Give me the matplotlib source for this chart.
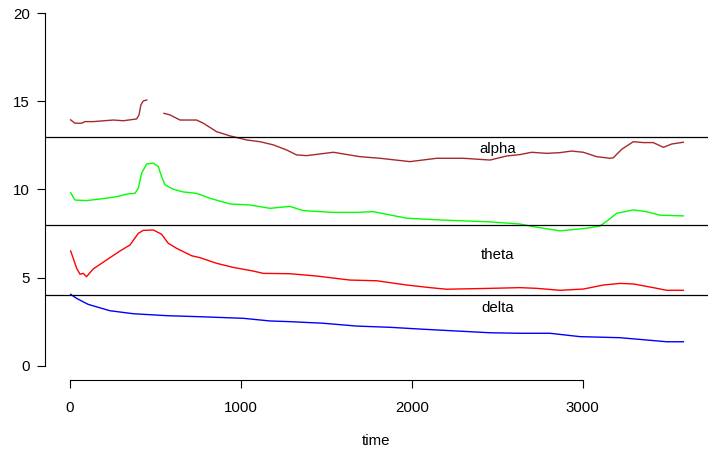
import numpy as np
import matplotlib
matplotlib.use("Agg")
import matplotlib.pyplot as plt

# ---- data ----
alpha_t = [4, 29, 68, 88, 136, 253, 312, 390, 404, 415, 429, 449,
           500,
           550, 585, 644, 741, 780, 858, 936, 1034, 1112, 1190, 1268, 1326,
           1385, 1541, 1697, 1814, 1989, 2146, 2301, 2458, 2555, 2633, 2701,
           2789, 2867, 2935, 3004, 3082, 3160, 3179, 3228, 3296, 3355, 3413,
           3472, 3521, 3589]
alpha_v = [13.95, 13.76, 13.76, 13.85, 13.85, 13.94, 13.9, 14.0, 14.23, 14.8, 15.02, 15.08,
           np.nan,
           14.32, 14.23, 13.94, 13.94, 13.76, 13.28, 13.04, 12.81, 12.71, 12.53, 12.24, 11.96,
           11.92, 12.11, 11.86, 11.77, 11.58, 11.77, 11.77, 11.67, 11.9, 11.98, 12.11,
           12.05, 12.09, 12.18, 12.11, 11.86, 11.77, 11.8, 12.28, 12.71, 12.66, 12.66,
           12.39, 12.58, 12.68]

beta_t = [4, 29, 97, 195, 273, 332, 380, 400, 419, 449, 488, 517, 536, 556,
          605, 663, 741, 819, 936, 1053, 1170, 1287, 1365, 1541, 1677, 1775,
          1970, 2165, 2458, 2633, 2711, 2867, 3023, 3101, 3150, 3199, 3296,
          3374, 3452, 3589]
beta_v = [9.82, 9.4, 9.37, 9.48, 9.59, 9.74, 9.78, 10.07, 10.92, 11.45, 11.49, 11.3, 10.73, 10.26,
          10.01, 9.86, 9.78, 9.5, 9.18, 9.12, 8.93, 9.04, 8.8, 8.7, 8.7, 8.74,
          8.37, 8.27, 8.16, 8.04, 7.89, 7.65, 7.8, 7.93, 8.27, 8.65, 8.84,
          8.74, 8.54, 8.5]

theta_t = [4, 19, 39, 59, 78, 97, 136, 234, 293, 351, 400, 429, 488, 536,
           575, 624, 712, 761, 858, 955, 1073, 1131, 1287, 1443, 1638, 1795,
           1970, 2107, 2204, 2458, 2633, 2731, 2867, 3004, 3121, 3218, 3296,
           3413, 3491, 3589]
theta_v = [6.51, 6.1, 5.53, 5.19, 5.24, 5.05, 5.49, 6.13, 6.51, 6.85, 7.51, 7.68, 7.7, 7.46,
           6.95, 6.66, 6.24, 6.13, 5.81, 5.58, 5.37, 5.24, 5.22, 5.09, 4.86, 4.82,
           4.58, 4.43, 4.34, 4.39, 4.43, 4.39, 4.28, 4.35, 4.58, 4.67, 4.64,
           4.43, 4.28, 4.28]

delta_t = [4, 39, 107, 234, 371, 566, 761, 1014, 1170, 1287, 1482, 1677,
           1872, 2067, 2263, 2458, 2633, 2809, 2984, 3218, 3374, 3491, 3589]
delta_v = [4.05, 3.82, 3.48, 3.12, 2.95, 2.84, 2.78, 2.69, 2.54, 2.5, 2.41, 2.25,
           2.18, 2.07, 1.97, 1.87, 1.84, 1.84, 1.65, 1.59, 1.46, 1.36, 1.36]

hlines = [13, 8, 4]
band_labels = ["alpha", "theta", "delta"]
label_x = [2500, 2500, 2500]
label_y = [12.05, 6.04, 3.06]

yticks = [0, 5, 10, 15, 20]
xticks = [0, 1000, 2000, 3000]

# ---- figure ----
plt.rcParams['font.family'] = ['Liberation Sans', 'DejaVu Sans']
fs = 10.8
fig = plt.figure(figsize=(7.14, 4.5), dpi=100)
ax = fig.add_axes([45 / 714, 1 - 380 / 450, 663 / 714, 380 / 450])
ax.set_xlim(-146, 3733)
ax.set_ylim(-0.81, 20.75)

lw = 1.0
ax.plot(alpha_t, alpha_v, color='#A52A2A', lw=lw)
ax.plot(beta_t, beta_v, color='#00FF00', lw=lw)
ax.plot(theta_t, theta_v, color='#FF0000', lw=lw)
ax.plot(delta_t, delta_v, color='#0000FF', lw=lw)

for h in hlines:
    ax.axhline(h, color='black', lw=0.9)

for lab, x, y in zip(band_labels, label_x, label_y):
    ax.text(x, y, lab, ha='center', va='baseline', fontsize=fs, color='black')

for s in ['top', 'right']:
    ax.spines[s].set_visible(False)
ax.spines['left'].set_bounds(0, 20)
ax.spines['bottom'].set_bounds(0, 3000)
for s in ['left', 'bottom']:
    ax.spines[s].set_linewidth(0.8)
    ax.spines[s].set_color('black')

ax.set_yticks(yticks)
ax.set_xticks(xticks)
ax.set_yticklabels([str(v) for v in yticks])
ax.set_xticklabels([str(v) for v in xticks])
ax.tick_params(axis='y', length=6, width=0.8, pad=5, labelsize=fs)
ax.tick_params(axis='x', length=6, width=0.8, pad=9, labelsize=fs)
ax.set_xlabel('time', fontsize=fs, labelpad=14)

fig.savefig('out.png', dpi=100)
